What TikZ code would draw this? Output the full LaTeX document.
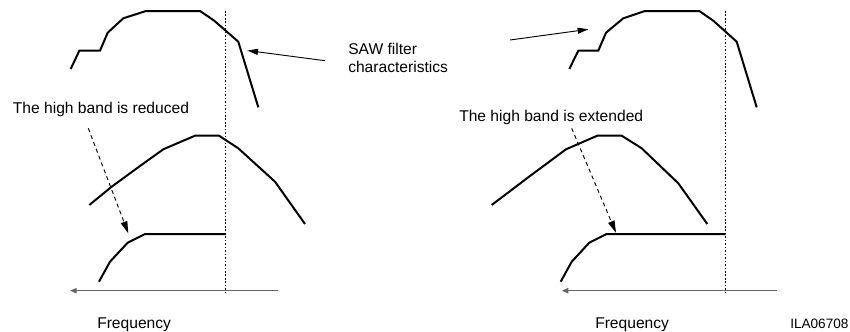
\documentclass[tikz,border=0pt]{standalone}
\usepackage{fontspec}
\setmainfont{Liberation Sans}
\usetikzlibrary{arrows.meta}
\begin{document}
\begin{tikzpicture}[x=0.75pt,y=-0.75pt,
  curve/.style={line width=1.5pt, line join=miter, line cap=butt},
  marker/.style={line width=0.7pt, dash pattern=on 1.2pt off 1.4pt},
  axisline/.style={line width=0.9pt, draw=black!60, -{Triangle[length=5pt,width=4pt]}},
  pointer/.style={line width=0.7pt, -{Triangle[length=8pt,width=4.5pt]}},
  dashpointer/.style={line width=0.7pt, dash pattern=on 3pt off 2.5pt, -{Triangle[length=9pt,width=5pt]}},
  label/.style={anchor=base west, inner sep=0pt, font=\fontsize{11.7}{13.8}\selectfont},
  small/.style={anchor=base west, inner sep=0pt, font=\fontsize{10.2}{12}\selectfont}]
\useasboundingbox (0,0) rectangle (850,332);

% ---------------- left panel ----------------
\draw[marker] (225.7,11) -- (225.7,294);
\draw[curve] (70.7,69) -- (79.3,50.7) -- (100,50.7) -- (107.7,32.7) -- (123.3,18.3)
  -- (146,11) -- (200,11) -- (214,20.5) -- (238.3,41.7) -- (258.3,107.3);
\draw[curve] (89.3,205) -- (111.7,186.7) -- (140,166) -- (163.3,149.3) -- (195,135.7)
  -- (219,135.7) -- (238.3,148.3) -- (275,181.7) -- (305,224);
\draw[curve] (99,281.7) -- (110,261.7) -- (127.7,242.7) -- (145,234) -- (226,234);
\coordinate (axLs) at (278.3,290.7);
\coordinate (axLe) at (70,290.7);
\draw[axisline] (axLs) -- (axLe);

\node[label] (redtxt) at (12.7,113) {The high band is reduced};
\coordinate (redS) at (88.3,128.3);
\coordinate (redE) at (128.3,233.3);
\draw[dashpointer] (redS) -- (redE);
\node[label] (freqL) at (97,328.3) {Frequency};

% ---------------- SAW label ----------------
\node[label, align=left, anchor=north west] (saw) at (348,42.5) {SAW filter\\characteristics};
\coordinate (sawL0) at (325,60.7);
\coordinate (sawL1) at (247.3,50.5);
\draw[pointer] (sawL0) -- (sawL1);
\coordinate (sawR0) at (510,40);
\coordinate (sawR1) at (588.3,29.3);
\draw[pointer] (sawR0) -- (sawR1);

% ---------------- right panel ----------------
\draw[marker] (725.7,11) -- (725.7,294);
\draw[curve] (569.3,69) -- (578.3,50.7) -- (598.3,50.7) -- (606,32.7) -- (623.3,18.3)
  -- (645,11) -- (699.3,11) -- (713.3,20.7) -- (736.7,41.7) -- (756.7,107.3);
\draw[curve] (491.7,205) -- (530,176) -- (566,149.3) -- (597.3,135.7) -- (621.7,135.7)
  -- (641.7,148.3) -- (678.3,183.3) -- (707.3,224);
\draw[curve] (560.7,281.7) -- (571.7,261.7) -- (589.3,242.7) -- (606.7,234) -- (725.7,234);
\coordinate (axRs) at (776.7,290.7);
\coordinate (axRe) at (561.7,290.7);
\draw[axisline] (axRs) -- (axRe);

\node[label] (exttxt) at (459,121.3) {The high band is extended};
\coordinate (extS) at (571.7,128.3);
\coordinate (extE) at (616,232.7);
\draw[dashpointer] (extS) -- (extE);
\node[label] (freqR) at (595,328.3) {Frequency};
\node[small] (ila) at (790,328.3) {ILA06708};
\end{tikzpicture}
\end{document}
